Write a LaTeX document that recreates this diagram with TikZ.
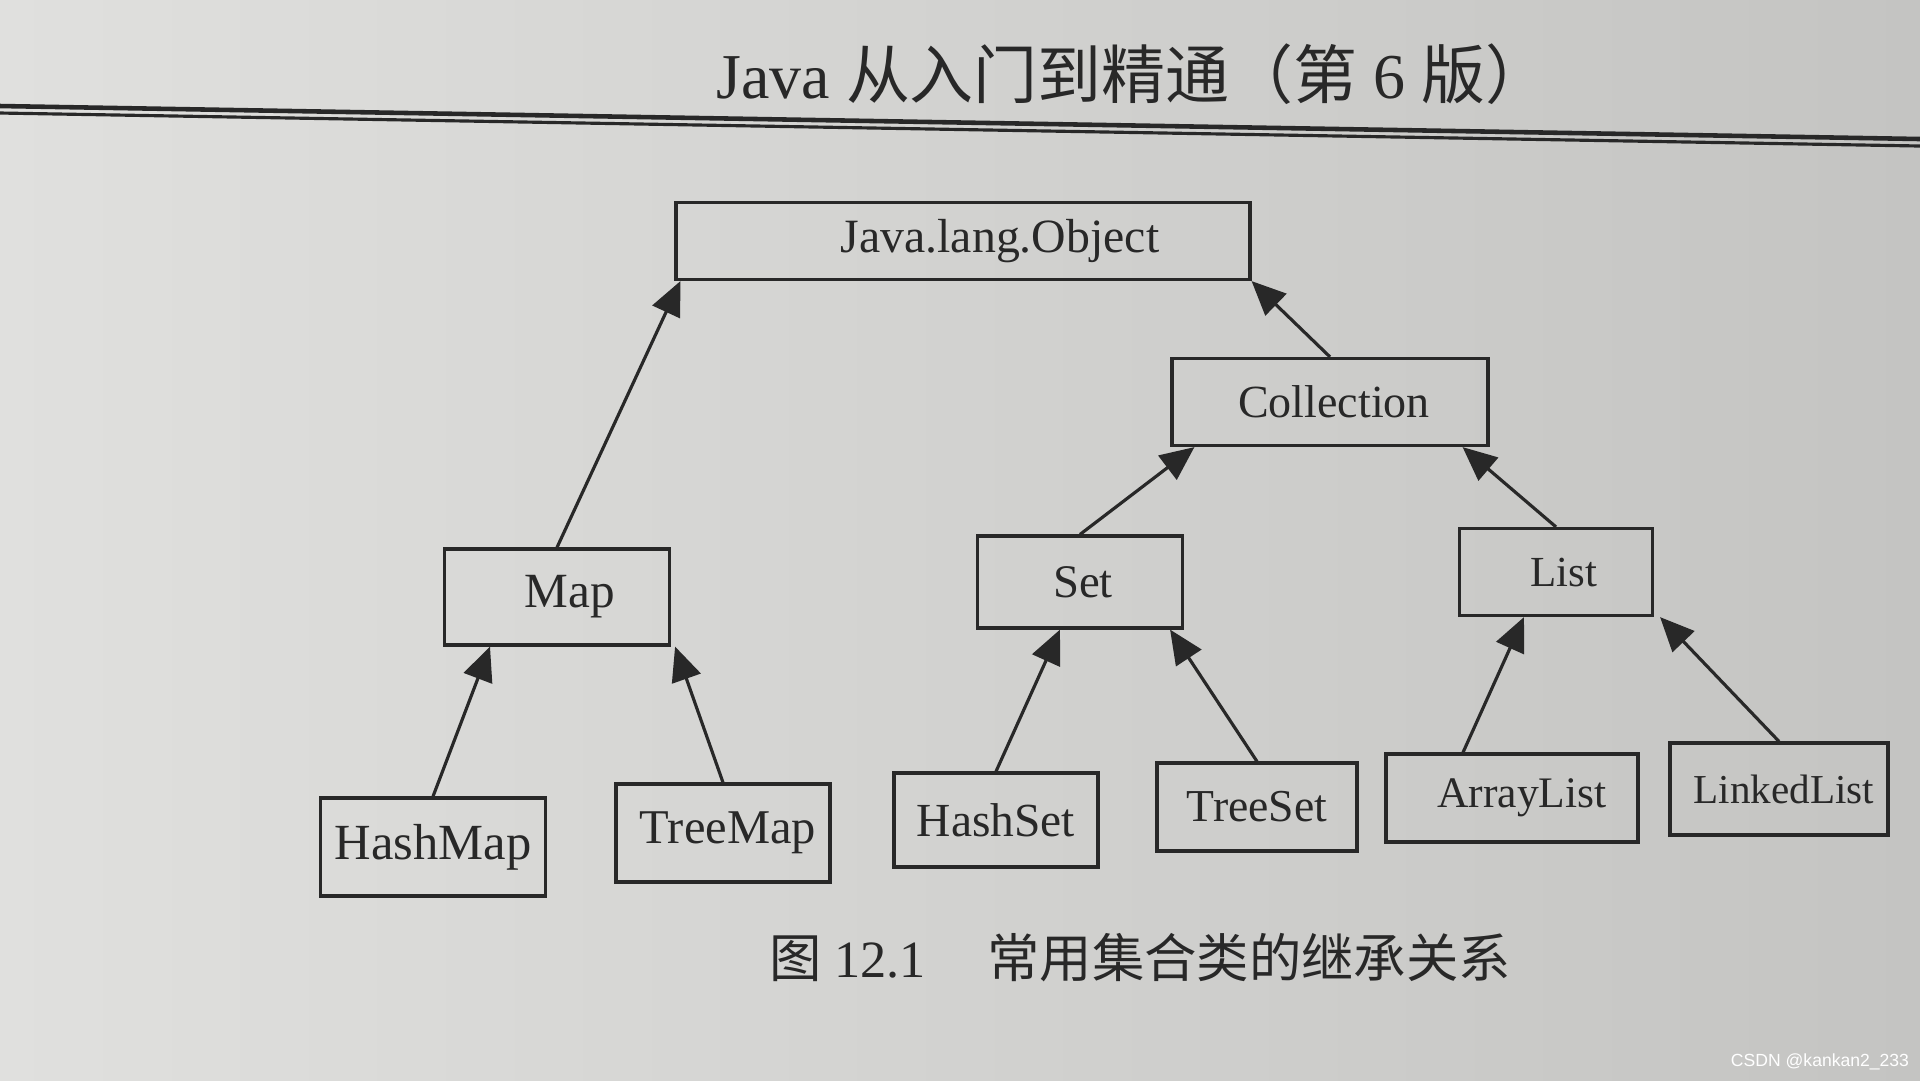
\documentclass[tikz,border=0pt]{standalone}
\usepackage{fontspec}
\setmainfont{Liberation Serif}
\newfontfamily\cjk{Noto Sans CJK SC}
\newfontfamily\wmfont{Liberation Sans}
\usepackage{xcolor}
\usetikzlibrary{arrows.meta}
\definecolor{ink}{RGB}{40,40,40}
\definecolor{paperL}{RGB}{224,224,222}
\definecolor{paperR}{RGB}{196,196,194}
\tikzset{>={Triangle[length=3.4mm,width=3mm]}}
\tikzset{
  cls/.style={draw=ink,line width=0.9pt,text=ink,inner sep=0pt,
    font=\fontsize{#1}{16}\selectfont},
  cls/.default=13.5,
  inh/.style={->,ink,line width=0.9pt}
}

\begin{document}
\begin{tikzpicture}[x=0.1mm,y=-0.1mm]
    \shade[left color=paperL,right color=paperR] (0,0) rectangle (1920,1080);
    \useasboundingbox (0,0) rectangle (1920,1080);

    % page header
    \node[text=ink,font=\fontsize{18.2}{22}\selectfont] (title) at (1133,74)
        {Java {\cjk 从入门到精通（第} 6 {\cjk 版）}};
    \draw[ink,line width=1.3pt] (0,106) -- (1920,139);
    \draw[ink,line width=0.9pt] (0,113) -- (1920,146);

    % classes
    \node[cls=13.6,minimum width=57.4mm,minimum height=7.7mm] (obj) at (963,241) {\hspace{7.4mm}Java.lang.Object};
    \node[cls=13.1,minimum width=31.6mm,minimum height=8.7mm] (coll) at (1330,402) {\hspace{0.8mm}Collection};
    \node[cls=14,minimum width=22.5mm,minimum height=9.6mm] (map) at (557,597) {\hspace{2.6mm}Map};
    \node[cls=13.3,minimum width=20.5mm,minimum height=9.2mm] (set) at (1080,582) {\hspace{0.6mm}Set};
    \node[cls=12.2,minimum width=19.3mm,minimum height=8.7mm] (list) at (1556,572) {\hspace{1.6mm}List};
    \node[cls=14.4,minimum width=22.5mm,minimum height=9.8mm] (hashmap) at (433,847) {HashMap};
    \node[cls=13.8,minimum width=21.4mm,minimum height=9.8mm] (treemap) at (723,833) {\hspace{1mm}TreeMap};
    \node[cls=13.5,minimum width=20.4mm,minimum height=9.4mm] (hashset) at (996,820) {HashSet};
    \node[cls=13,minimum width=20.0mm,minimum height=8.8mm] (treeset) at (1257,807) {TreeSet};
    \node[cls=12.4,minimum width=25.2mm,minimum height=8.8mm] (arraylist) at (1512,798) {\hspace{2mm}ArrayList};
    \node[cls=11.7,minimum width=21.8mm,minimum height=9.2mm] (linkedlist) at (1779,789) {\hspace{1mm}LinkedList};

    % inheritance
    \draw[inh] (map.north) -- ([xshift=0.6mm]obj.south west);
    \draw[inh] (coll.north) -- (obj.south east);
    \draw[inh] (set.north) -- ([xshift=2.4mm]coll.south west);
    \draw[inh] (list.north) -- ([xshift=-2.7mm]coll.south east);
    \draw[inh] (hashmap.north) -- ([xshift=-6.7mm]map.south);
    \draw[inh] (treemap.north) -- ([xshift=0.4mm]map.south east);
    \draw[inh] (hashset.north) -- ([xshift=-2mm]set.south);
    \draw[inh] (treeset.north) -- ([xshift=-1.4mm]set.south east);
    \draw[inh] ([xshift=-4.9mm]arraylist.north) -- ([xshift=-3.2mm]list.south);
    \draw[inh] (linkedlist.north) -- ([xshift=0.6mm]list.south east);

    % caption
    \node[text=ink,font=\fontsize{14.9}{18}\selectfont] (caption) at (1140,958)
        {{\cjk 图}\ 12.1\quad\,{\cjk 常用集合类的继承关系}};

    \node[text=white,font=\wmfont\fontsize{5}{6}\selectfont] (mark) at (1820,1062) {CSDN @kankan2\_233};
\end{tikzpicture}
\end{document}
